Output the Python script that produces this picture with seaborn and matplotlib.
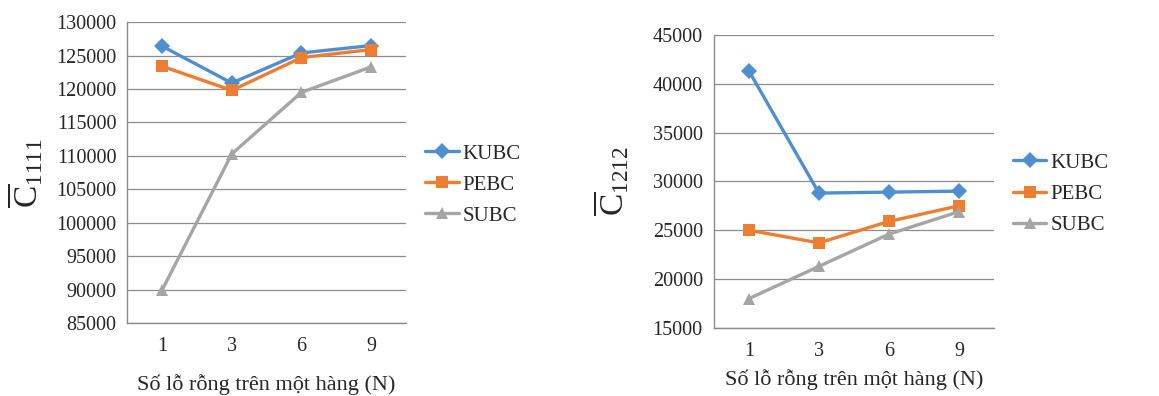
import numpy as np
import pandas as pd
import matplotlib
matplotlib.use("Agg")
import matplotlib.pyplot as plt
from matplotlib.ticker import FixedLocator
import seaborn as sns

# data
n_labels = ["1", "3", "6", "9"]
series = ["KUBC", "PEBC", "SUBC"]

c1111_kubc = [126400, 120900, 125400, 126500]
c1111_pebc = [123400, 119800, 124700, 125900]
c1111_subc = [90000, 110300, 119500, 123300]

c1212_kubc = [41300, 28800, 28900, 29000]
c1212_pebc = [25000, 23700, 25900, 27500]
c1212_subc = [18000, 21300, 24600, 26900]

colors = {"KUBC": "#4f8fd0", "PEBC": "#ed7d31", "SUBC": "#a5a5a5"}
markers = {"KUBC": "D", "PEBC": "s", "SUBC": "^"}


def long_df(k, p, s):
    rows = []
    for name, vals in zip(series, [k, p, s]):
        for n, v in zip(n_labels, vals):
            rows.append({"N": n, "value": v, "series": name})
    return pd.DataFrame(rows)


df1 = long_df(c1111_kubc, c1111_pebc, c1111_subc)
df2 = long_df(c1212_kubc, c1212_pebc, c1212_subc)

sns.set_style("white")
plt.rcParams["font.family"] = ["Liberation Serif", "DejaVu Serif"]
plt.rcParams["mathtext.fontset"] = "custom"
plt.rcParams["mathtext.rm"] = "Liberation Serif"
plt.rcParams["mathtext.it"] = "Liberation Serif:italic"

fig = plt.figure(figsize=(11.59, 3.96), dpi=100)
ax1 = fig.add_axes([0.110, 0.184, 0.240, 0.760])
ax2 = fig.add_axes([0.616, 0.172, 0.2416, 0.740])


def draw(ax, df, ylim, step, ylabel, legend_anchor, xpad):
    sns.lineplot(data=df, x="N", y="value", hue="series", style="series",
                 palette=colors, markers=markers, dashes=False,
                 linewidth=2.4, markersize=8, markeredgewidth=0, ax=ax)
    ax.set_xlim(-0.5, 3.5)
    ax.set_ylim(*ylim)
    ax.set_yticks(np.arange(ylim[0], ylim[1] + 1, step))
    ax.yaxis.grid(True, color="#8c8c8c", linewidth=0.9)
    ax.set_axisbelow(True)
    for side in ["top", "right"]:
        ax.spines[side].set_visible(False)
    for side in ["left", "bottom"]:
        ax.spines[side].set_color("#8c8c8c")
        ax.spines[side].set_linewidth(1)
    ax.xaxis.set_minor_locator(FixedLocator([-0.5, 0.5, 1.5, 2.5, 3.5]))
    ax.tick_params(axis="x", which="major", length=0, pad=10, labelsize=14.5)
    ax.tick_params(axis="x", which="minor", length=5, color="#8c8c8c", direction="out")
    ax.tick_params(axis="y", length=5, color="#8c8c8c", direction="out", labelsize=14.5, pad=3)
    ax.set_xlabel("Số lỗ rỗng trên một hàng (N)", fontsize=16, labelpad=xpad)
    ax.set_ylabel(ylabel, fontsize=24)
    ax.yaxis.set_label_coords(-0.295, 0.5)
    ax.get_legend().remove()
    handles, labels = ax.get_legend_handles_labels()
    fig.legend(handles, labels, loc="center left", bbox_to_anchor=legend_anchor,
               frameon=False, fontsize=15, handlelength=1.6, handletextpad=0.2,
               labelspacing=0.55, borderpad=0, borderaxespad=0)


draw(ax1, df1, (85000, 130000), 5000, r"$\overline{\mathrm{C}}_{1111}$", (0.367, 0.533), 13)
draw(ax2, df2, (15000, 45000), 5000, r"$\overline{\mathrm{C}}_{1212}$", (0.874, 0.51), 6)

plt.savefig("out.png", dpi=100)
